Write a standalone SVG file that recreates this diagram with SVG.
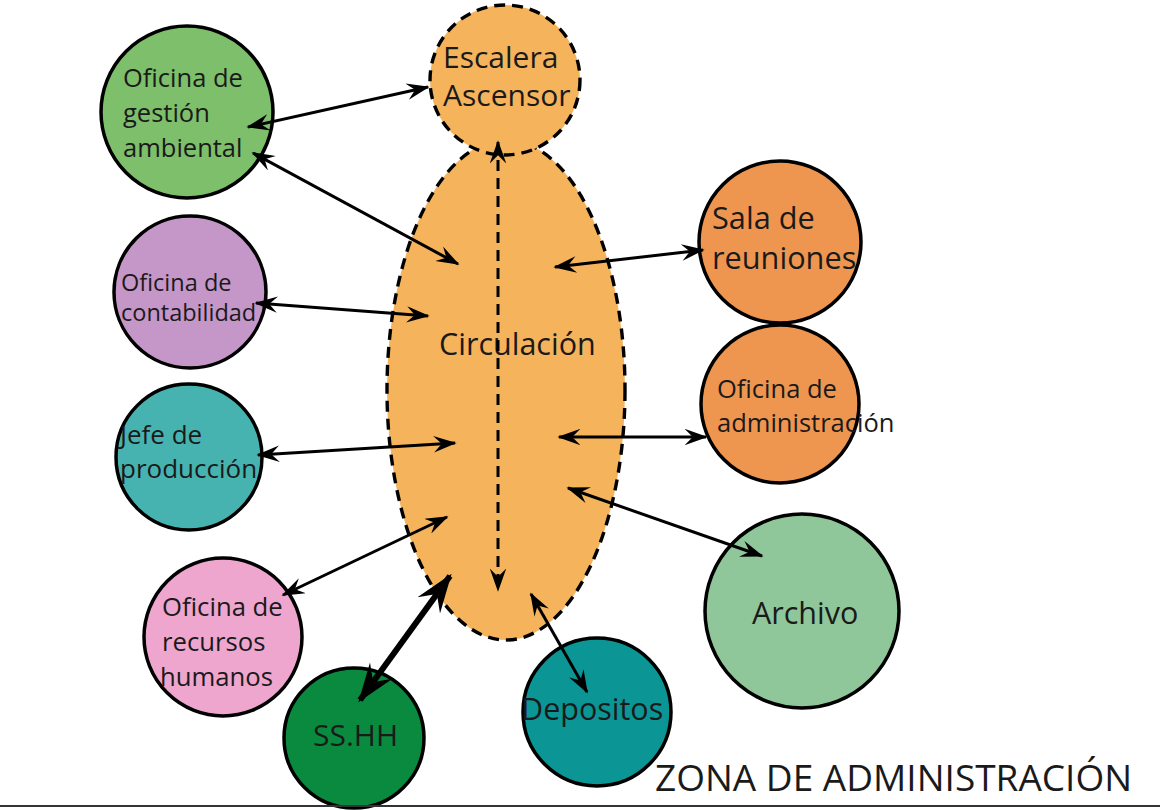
<svg xmlns="http://www.w3.org/2000/svg" width="1173" height="810" viewBox="0 0 1173 810">
<defs>
<marker id="ah" viewBox="0 0 14 10" refX="13" refY="5" markerWidth="8" markerHeight="5.5" orient="auto-start-reverse" markerUnits="strokeWidth">
<path d="M0,0 L14,5 L0,10 L5,5 z" fill="#000"/>
</marker>
<marker id="ahb" viewBox="0 0 14 10" refX="13" refY="5" markerWidth="6.5" markerHeight="5.5" orient="auto-start-reverse" markerUnits="strokeWidth">
<path d="M0,0 L14,5 L0,10 L5,5 z" fill="#000"/>
</marker>
</defs>
<style>
.n{stroke:#000;stroke-width:3.5}
.t{font-family:"Open Sans","Noto Sans",sans-serif;fill:#1a1a1a}
.c{stroke:#000;stroke-width:3;fill:none;marker-start:url(#ah);marker-end:url(#ah)}
.d{stroke:#000;stroke-width:3.4;stroke-dasharray:11 7}
</style>
<rect width="1173" height="810" fill="#fff"/>
<g id="circulacion">
<ellipse cx="506" cy="390" rx="119" ry="250" fill="#f5b35c" class="d"/>
<text class="t" x="439" y="355" font-size="30.5">Circulación</text>
</g>
<g id="escalera">
<circle cx="505" cy="80" r="75" fill="#f5b35c" class="d"/>
<text class="t" x="443" y="68" font-size="30">Escalera</text>
<text class="t" x="443" y="106" font-size="30">Ascensor</text>
</g>
<g id="gestion">
<circle cx="187" cy="112" r="86" fill="#7dbf6a" class="n"/>
<text class="t" x="123" y="87" font-size="25.5">Oficina de</text>
<text class="t" x="123" y="122" font-size="25.5">gestión</text>
<text class="t" x="123" y="157" font-size="25.5">ambiental</text>
</g>
<g id="contabilidad">
<circle cx="190" cy="292" r="76" fill="#c596c8" class="n"/>
<text class="t" x="121" y="291" font-size="23.5">Oficina de</text>
<text class="t" x="121" y="321" font-size="23.5">contabilidad</text>
</g>
<g id="jefe">
<circle cx="189" cy="457" r="73" fill="#47b3b0" class="n"/>
<text class="t" x="120" y="444" font-size="26">Jefe de</text>
<text class="t" x="120" y="478" font-size="26">producción</text>
</g>
<g id="rrhh">
<circle cx="223" cy="637" r="79" fill="#eea6cf" class="n"/>
<text class="t" x="162" y="616" font-size="25.7">Oficina de</text>
<text class="t" x="162" y="651" font-size="25.7">recursos</text>
<text class="t" x="160" y="686" font-size="25.7">humanos</text>
</g>
<g id="sshh">
<circle cx="354" cy="738" r="70" fill="#0a8a3e" class="n"/>
<text class="t" x="313" y="746" font-size="30">SS.HH</text>
</g>
<g id="depositos">
<circle cx="597" cy="712" r="74" fill="#0b9595" class="n"/>
<text class="t" x="521" y="720" font-size="30.5">Depositos</text>
</g>
<g id="archivo">
<circle cx="802" cy="611" r="97" fill="#8fc79a" class="n"/>
<text class="t" x="752" y="624" font-size="30.5">Archivo</text>
</g>
<g id="admin">
<circle cx="780" cy="404" r="79" fill="#ee9550" class="n"/>
<text class="t" x="717" y="398" font-size="25.5">Oficina de</text>
<text class="t" x="717" y="432" font-size="25.5">administración</text>
</g>
<g id="sala">
<circle cx="780" cy="242" r="81" fill="#ee9550" class="n"/>
<text class="t" x="712" y="229" font-size="30.7">Sala de</text>
<text class="t" x="712" y="269" font-size="30.7">reuniones</text>
</g>
<g id="connectors">
<line class="c" x1="248" y1="127" x2="428" y2="87"/>
<line class="c" x1="253" y1="153" x2="458" y2="264"/>
<line class="c" x1="256" y1="303" x2="428" y2="316"/>
<line class="c" x1="258" y1="455" x2="455" y2="443"/>
<line class="c" x1="283" y1="595" x2="447" y2="517"/>
<line x1="360" y1="700" x2="450" y2="576" stroke="#000" stroke-width="6" marker-start="url(#ahb)" marker-end="url(#ahb)"/>
<line class="c" x1="587" y1="692" x2="531" y2="594"/>
<line class="c" x1="762" y1="556" x2="568" y2="488"/>
<line class="c" x1="706" y1="437" x2="559" y2="437"/>
<line class="c" x1="703" y1="250" x2="555" y2="267"/>
<line x1="498" y1="142" x2="498" y2="590" stroke="#000" stroke-width="3" stroke-dasharray="11 7" marker-start="url(#ah)" marker-end="url(#ah)"/>
</g>
<text class="t" x="655" y="791" font-size="37">ZONA DE ADMINISTRACIÓN</text>
<line x1="0" y1="806" x2="1160" y2="806" stroke="#333" stroke-width="2"/>
</svg>
